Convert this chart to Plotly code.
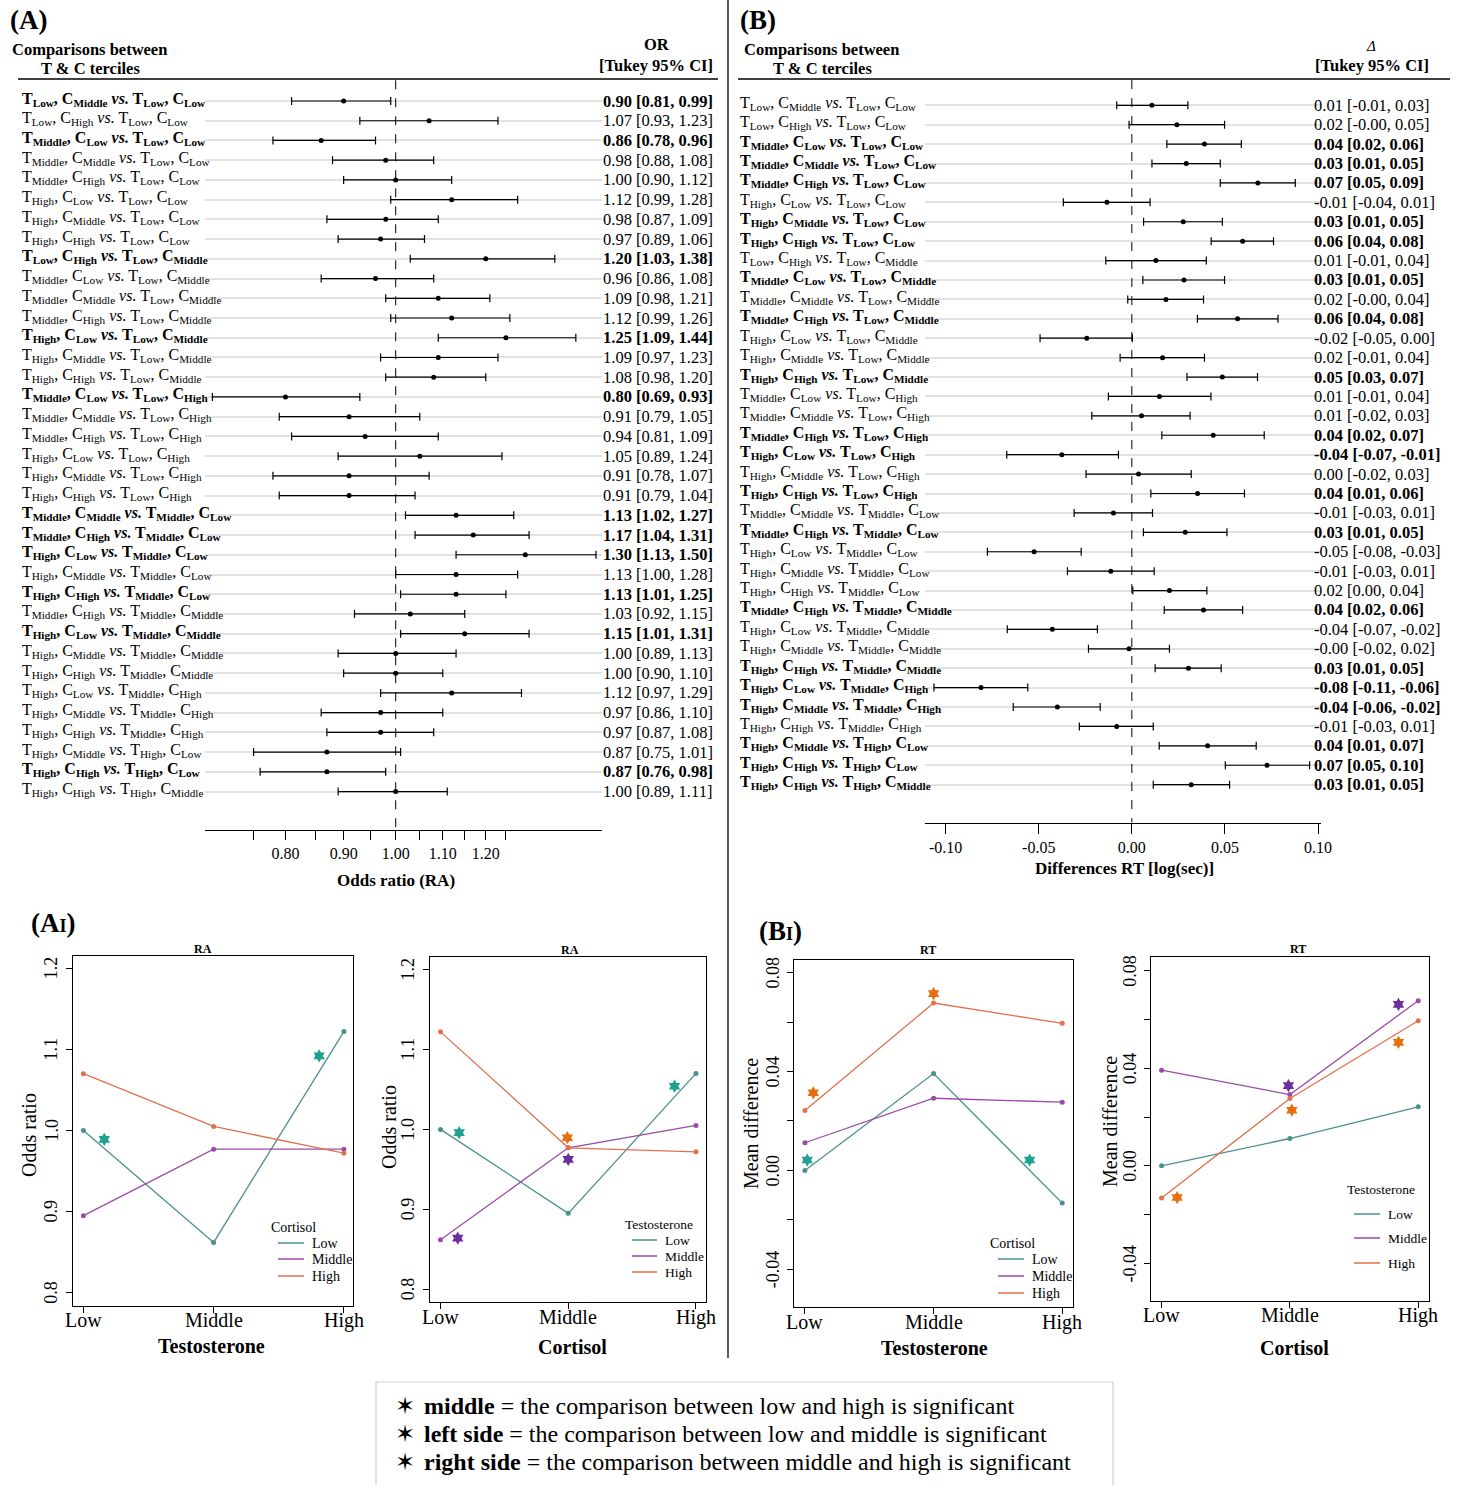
import plotly.graph_objects as go

W, H = 1463, 1485
def px(x): return x / W
def py(y): return 1 - y / H

FONT = "Liberation Serif"
levels = ["Low", "Middle", "High"]

# ---------------- data ----------------
comparisons = [
    ("Low", "Middle", "Low", "Low"), ("Low", "High", "Low", "Low"),
    ("Middle", "Low", "Low", "Low"), ("Middle", "Middle", "Low", "Low"),
    ("Middle", "High", "Low", "Low"), ("High", "Low", "Low", "Low"),
    ("High", "Middle", "Low", "Low"), ("High", "High", "Low", "Low"),
    ("Low", "High", "Low", "Middle"), ("Middle", "Low", "Low", "Middle"),
    ("Middle", "Middle", "Low", "Middle"), ("Middle", "High", "Low", "Middle"),
    ("High", "Low", "Low", "Middle"), ("High", "Middle", "Low", "Middle"),
    ("High", "High", "Low", "Middle"), ("Middle", "Low", "Low", "High"),
    ("Middle", "Middle", "Low", "High"), ("Middle", "High", "Low", "High"),
    ("High", "Low", "Low", "High"), ("High", "Middle", "Low", "High"),
    ("High", "High", "Low", "High"), ("Middle", "Middle", "Middle", "Low"),
    ("Middle", "High", "Middle", "Low"), ("High", "Low", "Middle", "Low"),
    ("High", "Middle", "Middle", "Low"), ("High", "High", "Middle", "Low"),
    ("Middle", "High", "Middle", "Middle"), ("High", "Low", "Middle", "Middle"),
    ("High", "Middle", "Middle", "Middle"), ("High", "High", "Middle", "Middle"),
    ("High", "Low", "Middle", "High"), ("High", "Middle", "Middle", "High"),
    ("High", "High", "Middle", "High"), ("High", "Middle", "High", "Low"),
    ("High", "High", "High", "Low"), ("High", "High", "High", "Middle"),
]

or_est = [0.90, 1.07, 0.86, 0.98, 1.00, 1.12, 0.98, 0.97, 1.20, 0.96, 1.09, 1.12,
          1.25, 1.09, 1.08, 0.80, 0.91, 0.94, 1.05, 0.91, 0.91, 1.13, 1.17, 1.30,
          1.13, 1.13, 1.03, 1.15, 1.00, 1.00, 1.12, 0.97, 0.97, 0.87, 0.87, 1.00]
or_lo = [0.81, 0.93, 0.78, 0.88, 0.90, 0.99, 0.87, 0.89, 1.03, 0.86, 0.98, 0.99,
         1.09, 0.97, 0.98, 0.69, 0.79, 0.81, 0.89, 0.78, 0.79, 1.02, 1.04, 1.13,
         1.00, 1.01, 0.92, 1.01, 0.89, 0.90, 0.97, 0.86, 0.87, 0.75, 0.76, 0.89]
or_hi = [0.99, 1.23, 0.96, 1.08, 1.12, 1.28, 1.09, 1.06, 1.38, 1.08, 1.21, 1.26,
         1.44, 1.23, 1.20, 0.93, 1.05, 1.09, 1.24, 1.07, 1.04, 1.27, 1.31, 1.50,
         1.28, 1.25, 1.15, 1.31, 1.13, 1.10, 1.29, 1.10, 1.08, 1.01, 0.98, 1.11]
or_bold = [1, 0, 1, 0, 0, 0, 0, 0, 1, 0, 0, 0, 1, 0, 0, 1, 0, 0, 0, 0, 0, 1, 1, 1,
           0, 1, 0, 1, 0, 0, 0, 0, 0, 0, 1, 0]

rt_est = [0.0108, 0.0242, 0.0390, 0.0292, 0.0677, -0.0134, 0.0276, 0.0595, 0.0129,
          0.0280, 0.0183, 0.0568, -0.0242, 0.0165, 0.0486, 0.0148, 0.0052, 0.0437,
          -0.0376, 0.0036, 0.0353, -0.0099, 0.0287, -0.0525, -0.0113, 0.0202, 0.0385,
          -0.0427, -0.0015, 0.0304, -0.0810, -0.0400, -0.0081, 0.0407, 0.0726, 0.0319]
rt_lo = [-0.0081, -0.0015, 0.0188, 0.0108, 0.0475, -0.0368, 0.0063, 0.0426, -0.0140,
         0.0059, -0.0022, 0.0352, -0.0493, -0.0063, 0.0296, -0.0126, -0.0215, 0.0161,
         -0.0672, -0.0246, 0.0102, -0.0310, 0.0062, -0.0776, -0.0346, 0.0005, 0.0174,
         -0.0669, -0.0233, 0.0125, -0.1063, -0.0637, -0.0282, 0.0147, 0.0502, 0.0115]
rt_hi = [0.0301, 0.0498, 0.0588, 0.0475, 0.0878, 0.0098, 0.0486, 0.0761, 0.0400,
         0.0498, 0.0385, 0.0785, 0.0003, 0.0390, 0.0675, 0.0425, 0.0313, 0.0711,
         -0.0072, 0.0319, 0.0605, 0.0111, 0.0511, -0.0272, 0.0120, 0.0403, 0.0595,
         -0.0185, 0.0202, 0.0480, -0.0559, -0.0170, 0.0115, 0.0668, 0.0955, 0.0525]
rt_bold = [0, 0, 1, 1, 1, 0, 1, 1, 0, 1, 0, 1, 0, 0, 1, 0, 0, 1, 1, 0, 1, 0, 1, 0,
           0, 0, 1, 0, 0, 1, 1, 1, 0, 1, 1, 1]

or_ticks = [0.75, 0.80, 0.85, 0.90, 0.95, 1.00, 1.05, 1.10, 1.15, 1.20, 1.25]
or_ticktext = ["", "0.80", "", "0.90", "", "1.00", "", "1.10", "", "1.20", ""]
rt_ticks = [-0.10, -0.05, 0.00, 0.05, 0.10]
rt_ticktext = ["-0.10", "-0.05", "0.00", "0.05", "0.10"]

# cell means: rows = testosterone tercile, cols = cortisol tercile
ra_cells = [[1.000, 0.895, 1.070],
            [0.862, 0.977, 1.005],
            [1.122, 0.977, 0.972]]
rt_cells = [[0.0000, 0.0112, 0.0242],
            [0.0392, 0.0292, 0.0677],
            [-0.0132, 0.0276, 0.0595]]

# significance stars (x position, y position, group)
ra_stars_T = [(0.16, 0.989, "Low"), (1.81, 1.092, "Low")]
ra_stars_C = [(0.146, 0.996, "Low"), (0.135, 0.864, "Middle"), (0.993, 0.9896, "High"),
              (1.0, 0.9625, "Middle"), (1.832, 1.054, "Low")]
rt_stars_T = [(0.065, 0.0314, "High"), (1.0, 0.0715, "High"), (0.018, 0.0042, "Low"),
              (1.746, 0.0042, "Low")]
rt_stars_C = [(0.989, 0.0329, "Middle"), (1.015, 0.0228, "High"), (1.846, 0.0662, "Middle"),
              (1.846, 0.0506, "High"), (0.121, -0.013, "High")]

ra_yticks = [0.8, 0.9, 1.0, 1.1, 1.2]
ra_yticktext = ["0.8", "0.9", "1.0", "1.1", "1.2"]
rt_yticks = [-0.04, -0.02, 0.0, 0.02, 0.04, 0.06, 0.08]
rt_yticktext = ["-0.04", "", "0.00", "", "0.04", "", "0.08"]

line_col = {"Low": "#4a918e", "Middle": "#9b4aa8", "High": "#e0714f"}
star_col = {"Low": "#1fa38f", "Middle": "#6b2fa0", "High": "#e6700f"}

# ---------------- figure ----------------
fig = go.Figure()
rows = list(range(1, 37))

def label(c, bold):
    s = (f"T<sub>{c[0]}</sub>, C<sub>{c[1]}</sub> <i>vs.</i> "
         f"T<sub>{c[2]}</sub>, C<sub>{c[3]}</sub>")
    return f"<b>{s}</b>" if bold else s

def vtext(e, l, h, bold):
    s = f"{e:.2f} [{l:.2f}, {h:.2f}]"
    return f"<b>{s}</b>" if bold else s

# Forest A
fig.add_trace(go.Scatter(
    x=or_est, y=rows, mode="markers", xaxis="x", yaxis="y",
    marker=dict(color="black", size=5),
    error_x=dict(type="data", symmetric=False,
                 array=[h - e for e, h in zip(or_est, or_hi)],
                 arrayminus=[e - l for e, l in zip(or_est, or_lo)],
                 color="black", thickness=1.2, width=4)))
fig.add_trace(go.Scatter(x=[1, 1], y=[-0.05, 37.95], mode="lines", xaxis="x", yaxis="y",
                         line=dict(color="black", width=1, dash="dash")))
# Forest B
fig.add_trace(go.Scatter(
    x=rt_est, y=rows, mode="markers", xaxis="x2", yaxis="y2",
    marker=dict(color="black", size=5),
    error_x=dict(type="data", symmetric=False,
                 array=[h - e for e, h in zip(rt_est, rt_hi)],
                 arrayminus=[e - l for e, l in zip(rt_est, rt_lo)],
                 color="black", thickness=1.2, width=4)))
fig.add_trace(go.Scatter(x=[0, 0], y=[-0.3, 37.96], mode="lines", xaxis="x2", yaxis="y2",
                         line=dict(color="black", width=1, dash="dash")))

# interaction plots
def add_inter(cells, by_T_on_x, stars, xa, ya):
    for g in range(3):
        if by_T_on_x:
            yv = [cells[t][g] for t in range(3)]
        else:
            yv = [cells[g][c] for c in range(3)]
        col = line_col[levels[g]]
        fig.add_trace(go.Scatter(x=[0, 1, 2], y=yv, mode="lines+markers", xaxis=xa, yaxis=ya,
                                 line=dict(color=col, width=1.3),
                                 marker=dict(color=col, size=5)))
    fig.add_trace(go.Scatter(x=[s[0] for s in stars], y=[s[1] for s in stars], mode="markers",
                             xaxis=xa, yaxis=ya,
                             marker=dict(symbol="hexagram", size=10,
                                         color=[star_col[s[2]] for s in stars],
                                         line=dict(width=0))))

add_inter(ra_cells, True, ra_stars_T, "x3", "y3")
add_inter(ra_cells, False, ra_stars_C, "x4", "y4")
add_inter(rt_cells, True, rt_stars_T, "x5", "y5")
add_inter(rt_cells, False, rt_stars_C, "x6", "y6")

ann = []
shapes = []

def A(x, y, text, size, bold=False, xanchor="center", yanchor="middle", xref="paper",
      yref="paper", angle=0, family=FONT, yshift=0):
    t = f"<b>{text}</b>" if bold else text
    ann.append(dict(x=x, y=y, xref=xref, yref=yref, text=t, showarrow=False,
                    xanchor=xanchor, yanchor=yanchor, textangle=angle, yshift=yshift,
                    font=dict(family=family, size=size, color="black")))

# row labels and values
for i, c in enumerate(comparisons):
    r = i + 1
    A(px(20), r, label(c, or_bold[i]), 16, xanchor="left", yref="y", yshift=2)
    A(px(601), r, vtext(or_est[i], or_lo[i], or_hi[i], or_bold[i]), 16.5, xanchor="left", yref="y")
    A(px(738), r, label(c, rt_bold[i]), 16, xanchor="left", yref="y2", yshift=2)
    A(px(1312), r, vtext(rt_est[i], rt_lo[i], rt_hi[i], rt_bold[i]), 16.5, xanchor="left", yref="y2")

# headers
A(px(28), py(20), "(A)", 27, bold=True)
A(px(758), py(20), "(B)", 27, bold=True)
A(px(10), py(50), "Comparisons between", 16.5, bold=True, xanchor="left")
A(px(39), py(68), "T &amp; C terciles", 16.5, bold=True, xanchor="left")
A(px(657), py(45), "OR", 16.5, bold=True)
A(px(656), py(66), "[Tukey 95% CI]", 16.5, bold=True)
A(px(742), py(50), "Comparisons between", 16.5, bold=True, xanchor="left")
A(px(771), py(69), "T &amp; C terciles", 16.5, bold=True, xanchor="left")
A(px(1371), py(46), "<i>Δ</i>", 15)
A(px(1372), py(66), "[Tukey 95% CI]", 16.5, bold=True)
shapes.append(dict(type="line", xref="paper", yref="paper", x0=px(18), x1=px(718),
                   y0=py(79), y1=py(79), line=dict(color="black", width=1.3)))
shapes.append(dict(type="line", xref="paper", yref="paper", x0=px(738), x1=px(1450),
                   y0=py(79), y1=py(79), line=dict(color="black", width=1.3)))
# divider
shapes.append(dict(type="line", xref="paper", yref="paper", x0=px(728), x1=px(728),
                   y0=py(0), y1=py(1358), line=dict(color="black", width=1.3)))

A(px(396), py(880), "Odds ratio (RA)", 17, bold=True)
A(px(1124), py(868), "Differences RT [log(sec)]", 17, bold=True)

# bottom panel labels
A(px(54), py(923), "(A<span style='font-size:18px'>I</span>)", 27, bold=True)
A(px(780), py(931), "(B<span style='font-size:18px'>I</span>)", 27, bold=True)
A(px(203), py(949), "RA", 12, bold=True)
A(px(570), py(950), "RA", 12, bold=True)
A(px(928), py(950), "RT", 12, bold=True)
A(px(1298), py(949), "RT", 12, bold=True)
A(px(211), py(1346), "Testosterone", 20, bold=True)
A(px(572), py(1347), "Cortisol", 20, bold=True)
A(px(934), py(1348), "Testosterone", 20, bold=True)
A(px(1294), py(1348), "Cortisol", 20, bold=True)
A(px(29), py(1135), "Odds ratio", 20, angle=-90)
A(px(389), py(1127), "Odds ratio", 20, angle=-90)
A(px(751), py(1124), "Mean difference", 20, angle=-90)
A(px(1110), py(1122), "Mean difference", 20, angle=-90)

# tick labels of the interaction plots (placed like base-R axes)
def tick_labels(xa, ya, xlab_y, ylab_x, yt, ytt):
    for i, lev in enumerate(levels):
        A(i, py(xlab_y), lev, 20, xref=xa)
    for v, t in zip(yt, ytt):
        if t:
            A(px(ylab_x), v, t, 18, yref=ya, angle=-90)

tick_labels("x3", "y3", 1320, 51, ra_yticks, ra_yticktext)
tick_labels("x4", "y4", 1317, 408, ra_yticks, ra_yticktext)
tick_labels("x5", "y5", 1322, 773, rt_yticks, rt_yticktext)
tick_labels("x6", "y6", 1315, 1130, rt_yticks, rt_yticktext)

def legend(title, tx, ty, lx0, lx1, txx, ys, size):
    A(px(tx), py(ty), title, size, xanchor="left")
    for lev, yy in zip(levels, ys):
        shapes.append(dict(type="line", xref="paper", yref="paper", x0=px(lx0), x1=px(lx1),
                           y0=py(yy), y1=py(yy), line=dict(color=line_col[lev], width=1.5)))
        A(px(txx), py(yy), lev, size, xanchor="left")

legend("Cortisol", 269, 1227, 278, 304, 310, [1243, 1259, 1276], 14)
legend("Testosterone", 623, 1224, 632, 657, 663, [1240, 1256, 1272], 13.5)
legend("Cortisol", 988, 1243, 998, 1024, 1030, [1259, 1276, 1293], 14)
legend("Testosterone", 1345, 1189, 1354, 1380, 1386, [1214, 1238, 1263], 13.5)

# key box
shapes.append(dict(type="rect", xref="paper", yref="paper", x0=px(376), x1=px(1113),
                   y0=py(1382), y1=py(1492), line=dict(color="#cfcfcf", width=1.2)))
key_lines = [("middle", "the comparison between low and high is significant"),
             ("left side", "the comparison between low and middle is significant"),
             ("right side", "the comparison between middle and high is significant")]
for (kw, rest), yy in zip(key_lines, [1406, 1434, 1462]):
    A(px(405), py(yy), "✶", 24, family="DejaVu Sans")
    A(px(422), py(yy), f"<b>{kw}</b> = {rest}", 24, xanchor="left")

# ---------------- layout ----------------
tickfont_forest = dict(family=FONT, size=16, color="black")
layout = dict(
    width=W, height=H, margin=dict(l=0, r=0, t=0, b=0, pad=0, autoexpand=False),
    paper_bgcolor="white", plot_bgcolor="white", showlegend=False,
    font=dict(family=FONT, color="black"),
    annotations=ann, shapes=shapes,
    xaxis=dict(domain=[px(205), px(602)], type="log", range=[-0.16763, 0.18136],
               tickvals=or_ticks, ticktext=or_ticktext, ticks="outside", ticklen=9,
               tickcolor="black", showline=True, linecolor="black", linewidth=1.2,
               showgrid=False, zeroline=False, tickfont=tickfont_forest, anchor="y",
               automargin=False),
    yaxis=dict(domain=[py(830), py(79)], range=[37.95, -0.115], tickvals=rows,
               showticklabels=False, ticks="", showgrid=True, gridcolor="#e2e2e2",
               gridwidth=1.5, zeroline=False, showline=False, anchor="x", automargin=False),
    xaxis2=dict(domain=[px(925), px(1321)], range=[-0.1111, 0.1016],
                tickvals=rt_ticks, ticktext=rt_ticktext, ticks="outside", ticklen=10,
                tickcolor="black", showline=True, linecolor="black", linewidth=1.2,
                showgrid=False, zeroline=False, tickfont=tickfont_forest, anchor="y2",
                automargin=False),
    yaxis2=dict(domain=[py(822.7), py(79)], range=[37.96, -0.355], tickvals=rows,
                showticklabels=False, ticks="", showgrid=True, gridcolor="#e2e2e2",
                gridwidth=1.5, zeroline=False, showline=False, anchor="x2", automargin=False),
)

def box_axes(n, xd, yd, xr, yr, yt):
    layout[f"xaxis{n}"] = dict(domain=[px(xd[0]), px(xd[1])], range=xr, tickvals=[0, 1, 2],
                               showticklabels=False, ticks="outside", ticklen=6,
                               tickcolor="black", showline=True, mirror=True,
                               linecolor="black", linewidth=1.2, showgrid=False,
                               zeroline=False, anchor=f"y{n}", automargin=False)
    layout[f"yaxis{n}"] = dict(domain=[py(yd[1]), py(yd[0])], range=yr, tickvals=yt,
                               showticklabels=False, ticks="outside", ticklen=6,
                               tickcolor="black", showline=True, mirror=True,
                               linecolor="black", linewidth=1.2, showgrid=False,
                               zeroline=False, anchor=f"x{n}", automargin=False)

box_axes(3, (73, 353), (955.7, 1305.7), [-0.08, 2.07], [0.784, 1.2155], ra_yticks)
box_axes(4, (430.3, 705.8), (956.7, 1301.7), [-0.08, 2.077], [0.7845, 1.216], ra_yticks)
box_axes(5, (794.1, 1073.2), (960, 1306.7), [-0.084, 2.085], [-0.0551, 0.0851], rt_yticks)
box_axes(6, (1151.3, 1429), (957.3, 1300.7), [-0.08, 2.084], [-0.0553, 0.0855], rt_yticks)

fig.update_layout(**layout)
fig.write_html("out.html", config={"displayModeBar": False},
               post_script="document.body.style.margin='0';document.body.style.overflow='hidden';")
